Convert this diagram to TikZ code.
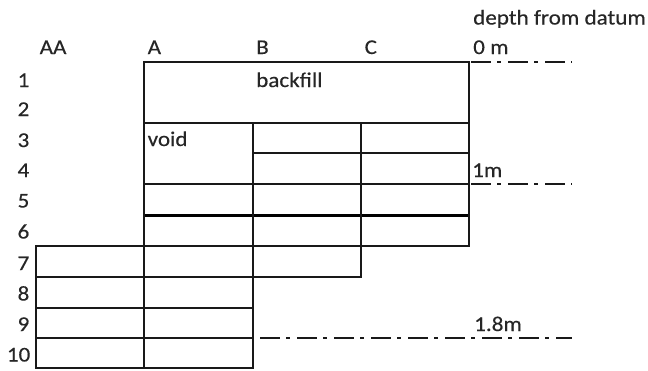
\documentclass[tikz,border=0pt]{standalone}
\usepackage{fontspec}
\setmainfont{Carlito}[FakeStretch=1.1, FakeBold=0.35]
\begin{document}
\begin{tikzpicture}[x=1pt, y=-1pt,
  gridline/.style={line width=2pt, line cap=rect, draw=black!90},
  heavyline/.style={line width=3.8pt, draw=black},
  datumline/.style={line width=2pt, draw=black!90, dash pattern=on 20pt off 6pt on 4pt off 7pt},
  lbl/.style={anchor=base west, inner sep=0pt, text=black!85, font=\fontsize{21}{22}\selectfont},
  rowlbl/.style={lbl, anchor=base east}]
\useasboundingbox (0,0) rectangle (648,370);

% column headers and depth caption
\node[lbl] (depth) at (473,24.5) {depth from datum};
\node[lbl] (colAA) at (39.5,54) {AA};
\node[lbl] (colA) at (147.5,54) {A};
\node[lbl] (colB) at (256,54) {B};
\node[lbl] (colC) at (364.5,54) {C};
\node[lbl] (d0) at (473,54) {0 m};

% row numbers
\node[rowlbl] (row1) at (29.5,87) {1};
\node[rowlbl] (row2) at (29.5,116) {2};
\node[rowlbl] (row3) at (29.5,147) {3};
\node[rowlbl] (row4) at (29.5,177) {4};
\node[rowlbl] (row5) at (29.5,207.5) {5};
\node[rowlbl] (row6) at (29.5,238.5) {6};
\node[rowlbl] (row7) at (29.5,270) {7};
\node[rowlbl] (row8) at (29.5,300.5) {8};
\node[rowlbl] (row9) at (29.5,331) {9};
\node[rowlbl] (row10) at (30.5,361.5) {10};

% cell texts and depth marks
\node[lbl] (backfill) at (256,87) {backfill};
\node[lbl] (void) at (147.5,146) {void};
\node[lbl] (d1) at (472,177) {1m};
\node[lbl] (d18) at (474,331) {1.8m};

% horizontal boundaries
\draw[gridline] (144,62) -- (469,62);
\draw[gridline] (144,123) -- (469,123);
\draw[gridline] (253,153) -- (469,153);
\draw[gridline] (144,184) -- (469,184);
\draw[heavyline] (144,215.5) -- (469,215.5);
\draw[gridline] (36,246) -- (469,246);
\draw[gridline] (36,277) -- (361,277);
\draw[gridline] (36,307.5) -- (253,307.5);
\draw[gridline] (36,338) -- (253,338);
\draw[gridline] (36,367.5) -- (253,367.5);

% vertical boundaries
\draw[gridline] (36,246) -- (36,367.5);
\draw[gridline] (144,62) -- (144,367.5);
\draw[gridline] (253,123) -- (253,367.5);
\draw[gridline] (361,123) -- (361,277);
\draw[gridline] (469,62) -- (469,246);

% depth reference lines
\draw[datumline] (471,62) -- (572,62);
\draw[datumline] (471,184) -- (572,184);
\draw[datumline] (260,338) -- (572,338);
\end{tikzpicture}
\end{document}
